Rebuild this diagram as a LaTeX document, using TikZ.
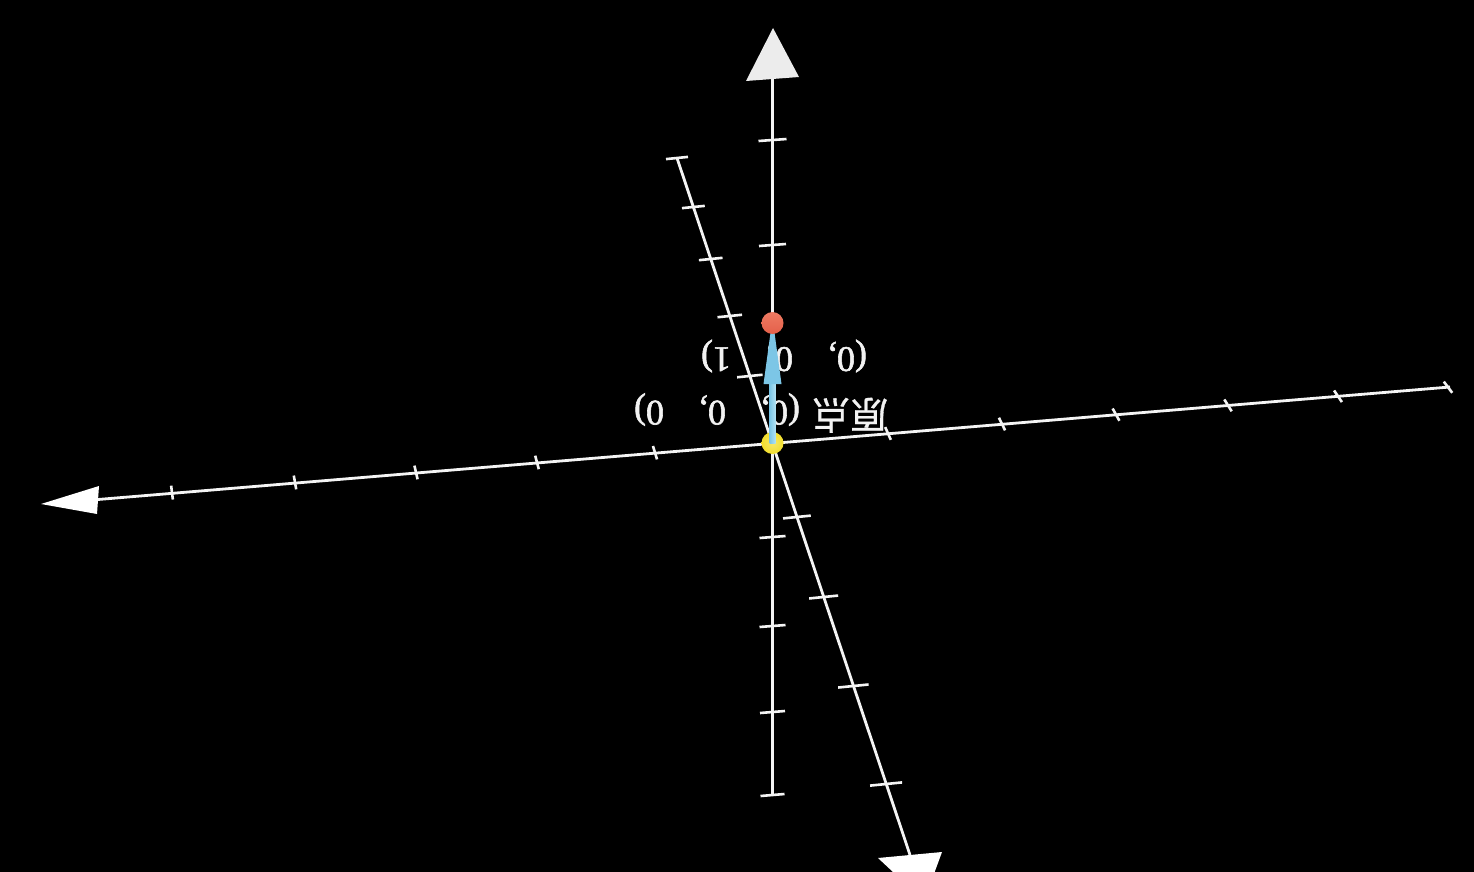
\documentclass[tikz,border=0pt]{standalone}
\usepackage{fontspec}
\setmainfont{Liberation Serif}
\newfontfamily\labelserif[FakeBold=1.6]{Liberation Serif}
\newfontfamily\cjk[FakeBold=0.8]{Noto Sans CJK SC}
\usetikzlibrary{positioning, calc}
\definecolor{axiswhite}{HTML}{F4F4F4}
\definecolor{tipgray}{HTML}{ECECEC}
\definecolor{labelwhite}{HTML}{F2F2F2}
\definecolor{vecblue}{HTML}{7CC6E6}
\definecolor{vecbluelight}{HTML}{B2E2F4}
\definecolor{pointred}{HTML}{E4604A}
\definecolor{pointredlight}{HTML}{EE7A62}
\definecolor{pointyellow}{HTML}{F2DE2C}
\newcommand\labelfont{\labelserif\fontsize{36}{36}\selectfont\spaceskip 35pt\relax}

\begin{document}
\begin{tikzpicture}[x=1pt, y=-1pt,
  axisline/.style={draw=axiswhite, line width=2.8pt},
  tickmark/.style={draw=axiswhite, line width=2.6pt},
  pointlabel/.style={text=labelwhite, rotate=180, inner sep=0pt, font=\labelfont}]
  \useasboundingbox (0,0) rectangle (1474,872);
  \fill[black] (0,0) rectangle (1474,872);
  \clip (0,0) rectangle (1474,872);

  % named points
  \coordinate (O) at (772.5,443);
  \coordinate (P) at (772.5,323);
  \coordinate (xl) at (98,499.5);
  \coordinate (xr) at (1450,387);
  \coordinate (yt) at (772.5,79);
  \coordinate (yb) at (772.5,795);
  \coordinate (zt) at (677,158);
  \coordinate (zb) at (910,855);

  % labels
  \node[pointlabel] (labelp) at (784,356) {(0, 0, 1)};
  \node[pointlabel] (labelo) at (761,413)
    {{\cjk\fontsize{38}{38}\selectfont 原点}\hspace{12pt}(0, 0, 0)};

  % axes
  \draw[axisline] (xl) -- (xr);
  \draw[axisline] (yt) -- (yb);
  \draw[axisline] (zt) -- (zb);

  % ticks
  \foreach \tx/\ta in {172/7, 295/10, 416/13, 537/15, 655/17, 888/24,
                       1002/26, 1116/29, 1228/32, 1338/34, 1448/37} {
    \pgfmathsetmacro\ty{443-0.0826*(\tx-772.5)}
    \draw[tickmark] ({\tx-7*sin(\ta)},{\ty-7*cos(\ta)})
      -- ({\tx+7*sin(\ta)},{\ty+7*cos(\ta)});
  }
  \foreach \ty/\tw in {140/28, 245/27, 537/26, 626/26, 712/25, 795/24}
    \draw[tickmark] ({772.5-\tw/2},{\ty+1}) -- ({772.5+\tw/2},{\ty-1});
  \foreach \ty in {158, 207, 259, 316, 376, 517, 597, 686, 784} {
    \pgfmathsetmacro\tx{677+0.334*(\ty-158)}
    \pgfmathsetmacro\tw{22+10*(\ty-158)/626}
    \draw[tickmark] ({\tx-\tw/2},{\ty+0.05*\tw})
      -- ({\tx+\tw/2},{\ty-0.05*\tw});
  }

  % arrow tips
  \fill[tipgray] (773,28) -- (746,81) -- (799,77) -- cycle;
  \fill[white] (41,504) -- (99,486) -- (97,514) -- cycle;
  \fill[white] (924,901) -- (878,858) -- (942,852) -- cycle;

  % origin, vector, point
  \shade[inner color=pointyellow!70!white, outer color=pointyellow] (O) circle (11);
  \shade[left color=vecblue, right color=vecbluelight]
    ($(O)+(-3,0)$) rectangle ($(O)+(3,-63)$);
  \fill[vecblue] ($(O)+(-9,-59)$) -- ($(O)+(9,-59)$) -- ($(P)+(0,-5)$) -- cycle;
  \shade[top color=pointredlight, bottom color=pointred] (P) circle (11);
\end{tikzpicture}
\end{document}
